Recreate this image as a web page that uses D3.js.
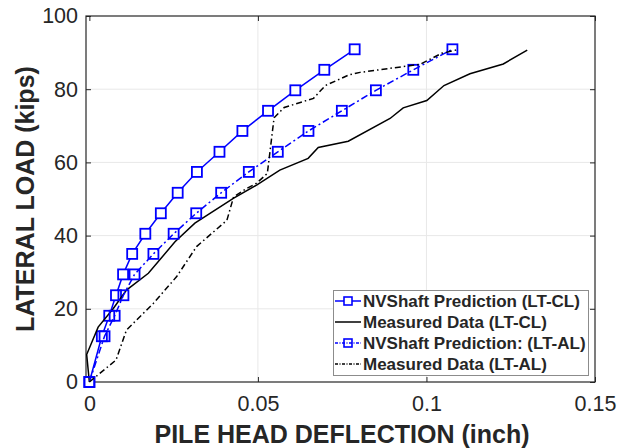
<!DOCTYPE html>
<html lang="en">
<head>
    <meta charset="UTF-8">
    <title>Lateral Load vs Pile Head Deflection</title>
    <script src="https://d3js.org/d3.v7.min.js"></script>
    <style>
        body {
            margin: 0;
            padding: 0;
            background-color: #ffffff;
        }
        svg text {
            font-family: 'Liberation Sans', Arial, Helvetica, sans-serif;
            fill: #262626;
        }
    </style>
</head>
<body>
    <svg id="chart" width="618" height="448"></svg>

    <script>
        // Load steps (kips) shared by both NVShaft predictions
        const predLoad = [0, 12.5, 18.1, 23.7, 29.4, 35.0, 40.5, 46.1, 51.7, 57.4, 62.9, 68.6, 74.1, 79.7, 85.3, 90.9];
        const predClDefl = [0, 0.0037, 0.0059, 0.0079, 0.0100, 0.0127, 0.0166, 0.0212, 0.0262, 0.0319, 0.0386, 0.0454, 0.0530, 0.0611, 0.0697, 0.0787];
        const predAlDefl = [0, 0.0045, 0.0075, 0.0101, 0.0134, 0.0190, 0.0250, 0.0317, 0.0391, 0.0473, 0.0559, 0.0650, 0.0749, 0.0850, 0.0961, 0.1077];

        const measClDefl = [0, -0.0008, 0.0026, 0.0071, 0.0110, 0.0175, 0.0254, 0.0313, 0.0427, 0.0496, 0.0565, 0.0649, 0.0679, 0.0768, 0.0892, 0.0931, 0.1001, 0.1052, 0.1129, 0.1228, 0.1299];
        const measClLoad = [0, 7.5, 15.0, 20.1, 25.1, 29.7, 38.3, 43.4, 50.2, 53.8, 57.9, 61.1, 64.1, 65.8, 72.0, 74.9, 76.9, 81.0, 84.2, 86.9, 90.7];

        const measAlDefl = [0, 0.0079, 0.0110, 0.0190, 0.0259, 0.0318, 0.0408, 0.0428, 0.0467, 0.0496, 0.0528, 0.0548, 0.0578, 0.0665, 0.0700, 0.0770, 0.0803, 0.0981, 0.1045, 0.1088];
        const measAlLoad = [0, 6.0, 14.2, 21.5, 28.8, 37.0, 44.2, 50.6, 52.9, 54.3, 57.0, 72.2, 75.0, 77.5, 81.0, 83.9, 84.6, 86.8, 89.8, 90.7];

        const xTicks = [0, 0.05, 0.1, 0.15];
        const xTickLabels = ['0', '0.05', '0.1', '0.15'];
        const yTicks = [0, 20, 40, 60, 80, 100];

        const legendLabels = [
            'NVShaft Prediction (LT-CL)',
            'Measured Data (LT-CL)',
            'NVShaft Prediction: (LT-AL)',
            'Measured Data (LT-AL)'
        ];

        const plotL = 86, plotR = 595, plotT = 16, plotB = 382;
        const svg = d3.select('#chart');

        const x = d3.scaleLinear().domain([-0.001, 0.15]).range([plotL, plotR]);
        const y = d3.scaleLinear().domain([0, 100]).range([plotB, plotT]);

        // grid
        svg.append('g').selectAll('line')
            .data(xTicks.slice(1, -1))
            .join('line')
            .attr('x1', d => x(d)).attr('x2', d => x(d))
            .attr('y1', plotT).attr('y2', plotB)
            .attr('stroke', '#e8e8e8').attr('stroke-width', 1);
        svg.append('g').selectAll('line')
            .data(yTicks.slice(1, -1))
            .join('line')
            .attr('x1', plotL).attr('x2', plotR)
            .attr('y1', d => y(d)).attr('y2', d => y(d))
            .attr('stroke', '#e8e8e8').attr('stroke-width', 1);

        // axes (ticks inward, box on)
        const tickLen = 5;
        svg.append('g')
            .attr('transform', `translate(0,${plotB})`)
            .call(d3.axisBottom(x).tickValues(xTicks).tickFormat((d, i) => xTickLabels[i])
                .tickSizeInner(-tickLen).tickSizeOuter(0).tickPadding(14));
        svg.append('g')
            .attr('transform', `translate(${plotL},0)`)
            .call(d3.axisLeft(y).tickValues(yTicks).tickSizeInner(-tickLen).tickSizeOuter(0).tickPadding(8));
        svg.append('g')
            .attr('transform', `translate(0,${plotT})`)
            .call(d3.axisTop(x).tickValues(xTicks).tickFormat('').tickSizeInner(-tickLen).tickSizeOuter(0));
        svg.append('g')
            .attr('transform', `translate(${plotR},0)`)
            .call(d3.axisRight(y).tickValues(yTicks).tickFormat('').tickSizeInner(-tickLen).tickSizeOuter(0));

        svg.selectAll('.domain').remove();
        svg.selectAll('.tick line').attr('stroke', '#262626');
        svg.selectAll('.tick text').attr('font-size', 21.5).attr('fill', '#262626');

        svg.append('rect')
            .attr('x', plotL).attr('y', plotT)
            .attr('width', plotR - plotL).attr('height', plotB - plotT)
            .attr('fill', 'none').attr('stroke', '#262626').attr('stroke-width', 1.2);

        // axis titles
        svg.append('text')
            .attr('x', 342).attr('y', 443)
            .attr('text-anchor', 'middle')
            .attr('font-size', 25).attr('font-weight', 'bold')
            .text('PILE HEAD DEFLECTION (inch)');
        svg.append('text')
            .attr('transform', `translate(34,199) rotate(-90)`)
            .attr('text-anchor', 'middle')
            .attr('font-size', 25).attr('font-weight', 'bold')
            .text('LATERAL LOAD (kips)');

        const line = d3.line().x(d => x(d[0])).y(d => y(d[1]));
        const zip = (a, b) => a.map((v, i) => [v, b[i]]);

        const series = [
            { pts: zip(predClDefl, predLoad), color: '#0000ff', dash: null, marker: true, fill: '#ffffff' },
            { pts: zip(measClDefl, measClLoad), color: '#000000', dash: null, marker: false },
            { pts: zip(predAlDefl, predLoad), color: '#0000ff', dash: '7,3,2,3', marker: true, fill: 'none' },
            { pts: zip(measAlDefl, measAlLoad), color: '#000000', dash: '6,3,1.5,3', marker: false }
        ];

        const ms = 10;
        series.forEach(s => {
            svg.append('path')
                .datum(s.pts)
                .attr('d', line)
                .attr('fill', 'none')
                .attr('stroke', s.color)
                .attr('stroke-width', 1.5)
                .attr('stroke-dasharray', s.dash);
            if (s.marker) {
                svg.append('g').selectAll('rect')
                    .data(s.pts)
                    .join('rect')
                    .attr('x', d => x(d[0]) - ms / 2)
                    .attr('y', d => y(d[1]) - ms / 2)
                    .attr('width', ms).attr('height', ms)
                    .attr('fill', s.fill)
                    .attr('stroke', s.color)
                    .attr('stroke-width', 1.8);
            }
        });

        // legend
        const lg = svg.append('g');
        lg.append('rect')
            .attr('x', 333.5).attr('y', 290.5)
            .attr('width', 255).attr('height', 85)
            .attr('fill', '#ffffff').attr('stroke', '#8c8c8c').attr('stroke-width', 1);
        legendLabels.forEach((lab, i) => {
            const s = series[i];
            const ry = 301 + i * 21;
            lg.append('line')
                .attr('x1', 335).attr('x2', 361)
                .attr('y1', ry).attr('y2', ry)
                .attr('stroke', s.color).attr('stroke-width', 1.5)
                .attr('stroke-dasharray', s.dash ? '3,1.5,1,1.5' : null);
            if (s.marker) {
                lg.append('rect')
                    .attr('x', 348 - 4).attr('y', ry - 4)
                    .attr('width', 8).attr('height', 8)
                    .attr('fill', s.fill).attr('stroke', s.color).attr('stroke-width', 1.6);
            }
            lg.append('text')
                .attr('x', 363).attr('y', ry + 6)
                .attr('font-size', 17).attr('font-weight', 'bold')
                .attr('fill', '#000000')
                .text(lab);
        });
    </script>
</body>
</html>
